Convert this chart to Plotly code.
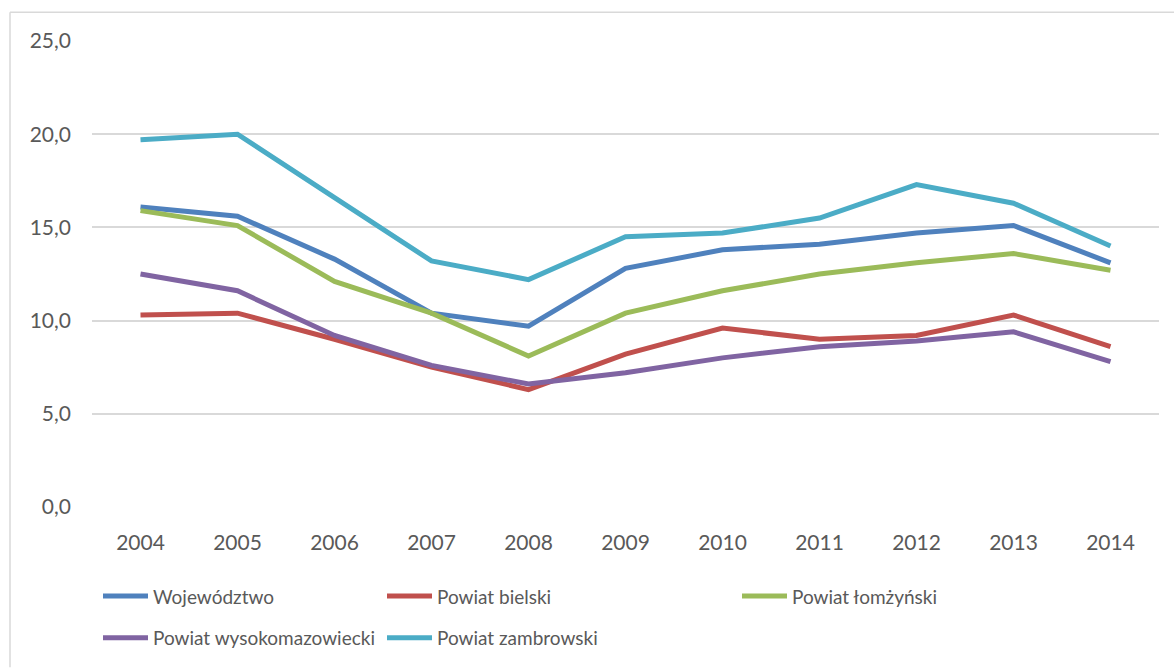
import plotly.graph_objects as go

years = ["2004", "2005", "2006", "2007", "2008", "2009", "2010", "2011", "2012", "2013", "2014"]
wojewodztwo = [16.1, 15.6, 13.3, 10.4, 9.7, 12.8, 13.8, 14.1, 14.7, 15.1, 13.1]
bielski = [10.3, 10.4, 9.0, 7.5, 6.3, 8.2, 9.6, 9.0, 9.2, 10.3, 8.6]
lomzynski = [15.9, 15.1, 12.1, 10.4, 8.1, 10.4, 11.6, 12.5, 13.1, 13.6, 12.7]
wysokomazowiecki = [12.5, 11.6, 9.2, 7.6, 6.6, 7.2, 8.0, 8.6, 8.9, 9.4, 7.8]
zambrowski = [19.7, 20.0, 16.6, 13.2, 12.2, 14.5, 14.7, 15.5, 17.3, 16.3, 14.0]
y_ticks = [0, 5, 10, 15, 20, 25]

W, H = 1174, 669
L, R, T, B = 92, 15, 41, 157
pw, ph = W - L - R, H - T - B

def px_x(p):
    return (p - L) / pw

def px_y(p):
    return (H - B - p) / ph

FONT = "Lato"
TXT = "#595959"

series = [
    ("Województwo", wojewodztwo, "#4F81BD", "legend", "g1"),
    ("Powiat bielski", bielski, "#C0504D", "legend2", "g2"),
    ("Powiat łomżyński", lomzynski, "#9BBB59", "legend3", "g3"),
    ("Powiat wysokomazowiecki", wysokomazowiecki, "#8064A2", "legend", "g4"),
    ("Powiat zambrowski", zambrowski, "#4BACC6", "legend2", "g5"),
]

fig = go.Figure()
for name, vals, col, leg, grp in series:
    fig.add_trace(go.Scatter(
        x=years, y=vals, name=name, mode="lines",
        line=dict(color=col, width=5),
        legend=leg, legendgroup=grp,
    ))

leg_common = dict(
    orientation="v", xanchor="left", yanchor="top",
    font=dict(family=FONT, size=19, color=TXT),
    bgcolor="rgba(0,0,0,0)", borderwidth=0,
    tracegroupgap=14, itemwidth=45,
)
y_leg = px_y(583)
fig.update_layout(
    legend=dict(x=px_x(98), y=y_leg, **leg_common),
    legend2=dict(x=px_x(382), y=y_leg, **leg_common),
    legend3=dict(x=px_x(737), y=y_leg, **leg_common),
)

fig.update_layout(
    width=W, height=H,
    margin=dict(l=L, r=R, t=T, b=B),
    paper_bgcolor="white", plot_bgcolor="white",
    separators=", ",
    font=dict(family=FONT, size=21, color=TXT),
    xaxis=dict(
        type="category", range=[-0.5, 10.5],
        showgrid=False, zeroline=False, showline=False, ticks="",
        tickfont=dict(family=FONT, size=21, color=TXT),
        ticklabelstandoff=21,
    ),
    yaxis=dict(
        range=[0, 25], tickvals=y_ticks, tickformat=".1f",
        showgrid=True, gridcolor="#D9D9D9", gridwidth=1.5,
        zeroline=False, showline=False, ticks="",
        tickfont=dict(family=FONT, size=21, color=TXT),
        ticklabelstandoff=20,
    ),
    shapes=[
        dict(type="line", xref="paper", yref="paper",
             x0=px_x(10), x1=px_x(W + 5), y0=px_y(12), y1=px_y(12),
             line=dict(color="#D9D9D9", width=1.5)),
        dict(type="line", xref="paper", yref="paper",
             x0=px_x(10), x1=px_x(10), y0=px_y(12), y1=px_y(H + 5),
             line=dict(color="#D9D9D9", width=1.5)),
    ],
)

fig.write_html(
    "out.html",
    config={"displayModeBar": False},
    post_script="document.body.style.margin='0';document.body.style.overflow='hidden';",
)
